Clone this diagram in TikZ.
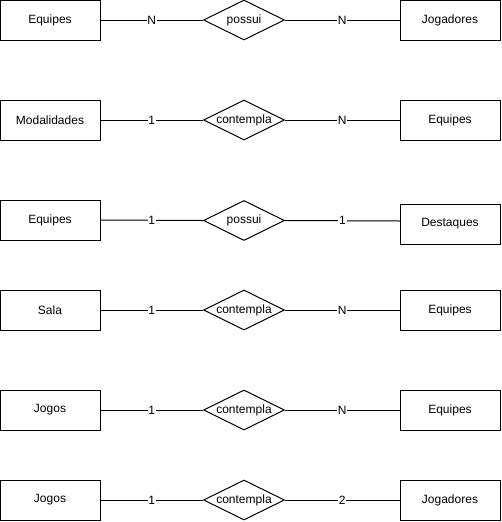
\documentclass[tikz,border=0pt]{standalone}
\usepackage{fontspec}
\setmainfont{Liberation Sans}
\usetikzlibrary{shapes.geometric}
\begin{document}
\begin{tikzpicture}[x=0.75pt,y=-0.75pt,
  every node/.style={font=\fontsize{9}{11}\selectfont, line width=0.75pt},
  entity/.style={draw, rectangle, minimum width=75pt, minimum height=30pt, inner sep=0pt},
  rel/.style={draw, diamond, aspect=2.025, minimum width=60.75pt, minimum height=30pt, inner sep=0pt},
  card/.style={fill=white, inner sep=0.5pt},
  conn/.style={line width=0.75pt}]
\useasboundingbox (0,0) rectangle (501,522);
% row 1
\node[entity] (e1) at (50,20) {Equipes};
\node[rel] (r1) at (244,20) {possui};
\node[entity] (f1) at (450,20) {Jogadores};
\draw[conn] (e1.east) -- node[card]{N} (r1.west);
\draw[conn] (r1.east) -- node[card]{N} (f1.west);
% row 2
\node[entity] (e2) at (50,120) {Modalidades};
\node[rel] (r2) at (244,120) {contempla};
\node[entity] (f2) at (450,120) {Equipes};
\draw[conn] (e2.east) -- node[card]{1} (r2.west);
\draw[conn] (r2.east) -- node[card]{N} (f2.west);
% row 3
\node[entity] (e3) at (50,220) {Equipes};
\node[rel] (r3) at (244,220.5) {possui};
\node[entity] (f3) at (450,224) {Destaques};
\coordinate (f3in) at (400,221);
\draw[conn] (e3.east) -- node[card]{1} (r3.west);
\draw[conn] (r3.east) -- node[card]{1} (f3in);
% row 4
\node[entity] (e4) at (50,310) {Sala};
\node[rel] (r4) at (244,310) {contempla};
\node[entity] (f4) at (450,310) {Equipes};
\draw[conn] (e4.east) -- node[card]{1} (r4.west);
\draw[conn] (r4.east) -- node[card]{N} (f4.west);
% row 5
\node[entity] (e5) at (50,410) {Jogos};
\node[rel] (r5) at (244,410) {contempla};
\node[entity] (f5) at (450,410) {Equipes};
\draw[conn] (e5.east) -- node[card]{1} (r5.west);
\draw[conn] (r5.east) -- node[card]{N} (f5.west);
% row 6
\node[entity] (e6) at (50,500) {Jogos};
\node[rel] (r6) at (244,500) {contempla};
\node[entity] (f6) at (450,500) {Jogadores};
\draw[conn] (e6.east) -- node[card]{1} (r6.west);
\draw[conn] (r6.east) -- node[card]{2} (f6.west);
\end{tikzpicture}
\end{document}
